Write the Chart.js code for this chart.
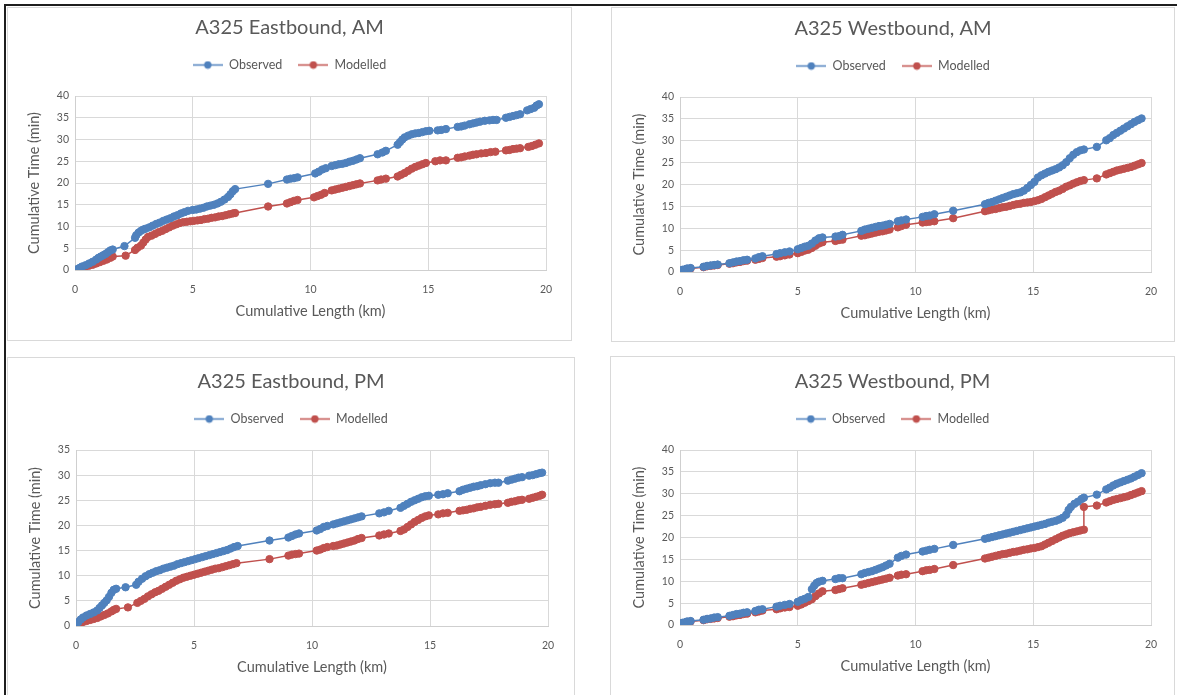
<!DOCTYPE html>
<html>
<head>
<meta charset="utf-8">
<script src="https://cdn.jsdelivr.net/npm/chart.js@4.4.1/dist/chart.umd.min.js"></script>
<style>
  body { margin: 0; background: #fff; width: 1177px; height: 695px; overflow: hidden; position: relative; }
  #frame { position: absolute; left: 4px; top: 4px; right: -10px; bottom: -10px; border-top: 2px solid #1e1e1e; border-left: 2px solid #1e1e1e; }
  .chartBox { position: absolute; box-sizing: border-box; border: 1px solid #d9d9d9; background: #fff; }
  .chartBox canvas { display: block; }
</style>
</head>
<body>
<div id="frame"></div>
<div id="chartsContainer"></div>
<script>
// [cumulative length (km), cumulative time (min)]
var ebAmObserved = [[0,0],[0.1,0.2],[0.2,0.5],[0.3,0.8],[0.45,1.1],[0.6,1.5],[0.75,1.9],[0.9,2.4],[1.0,2.8],[1.1,3.1],[1.2,3.4],[1.3,3.7],[1.4,4.1],[1.5,4.5],[1.6,4.7],
  [2.1,5.5],
  [2.55,7.4],[2.6,8.0],[2.7,8.6],[2.8,9.0],[2.9,9.3],[3.0,9.5],[3.15,9.8],[3.3,10.2],[3.45,10.6],[3.6,10.9],[3.75,11.3],[3.9,11.6],[4.05,11.9],[4.2,12.3],[4.35,12.6],[4.5,13.0],[4.65,13.3],[4.8,13.6],[5.0,13.8],[5.15,13.9],[5.3,14.1],[5.45,14.3],[5.6,14.6],[5.75,14.8],[5.9,15.0],[6.05,15.3],[6.2,15.7],[6.35,16.2],[6.5,16.8],[6.6,17.4],[6.7,18.1],[6.8,18.6],
  [8.2,19.8],
  [9.0,20.8],[9.15,21.0],[9.3,21.1],[9.45,21.3],
  [10.2,22.2],[10.35,22.6],[10.5,23.1],[10.65,23.4],
  [10.9,23.9],[11.05,24.1],[11.2,24.3],[11.35,24.4],[11.5,24.6],[11.65,24.9],[11.8,25.1],[11.95,25.4],[12.1,25.7],
  [12.85,26.6],[13.05,27.0],[13.2,27.4],
  [13.7,28.8],[13.8,29.4],[13.9,30.0],[14.0,30.5],[14.15,30.9],[14.3,31.2],[14.45,31.4],[14.6,31.5],[14.75,31.7],[14.9,31.9],[15.05,32.0],
  [15.4,32.1],[15.55,32.2],[15.75,32.4],
  [16.25,32.9],[16.4,33.0],[16.55,33.2],[16.75,33.5],[16.9,33.7],[17.05,33.9],[17.2,34.1],[17.4,34.3],[17.6,34.4],[17.75,34.5],[17.9,34.5],
  [18.3,35.0],[18.45,35.2],[18.6,35.4],[18.75,35.6],[18.9,35.8],
  [19.2,36.7],[19.35,37.0],[19.5,37.3],[19.6,37.8],[19.7,38.1]];

var ebAmModelled = [[0,0],[0.1,0.1],[0.2,0.3],[0.3,0.5],[0.45,0.8],[0.6,1.0],[0.75,1.2],[0.9,1.5],[1.05,1.8],[1.2,2.1],[1.35,2.4],[1.5,2.8],[1.6,3.1],
  [2.15,3.3],
  [2.55,4.6],[2.65,5.1],[2.8,5.6],[2.9,6.3],[3.0,7.0],[3.1,7.6],[3.25,7.9],[3.4,8.3],[3.55,8.7],[3.7,9.0],[3.85,9.4],[4.0,9.8],[4.15,10.2],[4.3,10.5],[4.45,10.8],[4.6,11.0],[4.75,11.1],[4.9,11.2],[5.05,11.3],[5.2,11.4],[5.35,11.5],[5.5,11.7],[5.65,11.8],[5.8,12.0],[5.95,12.1],[6.1,12.3],[6.25,12.4],[6.4,12.6],[6.55,12.8],[6.7,13.0],[6.8,13.1],
  [8.2,14.6],
  [9.0,15.3],[9.15,15.6],[9.3,15.9],[9.45,16.1],
  [10.15,16.7],[10.3,17.0],[10.45,17.3],[10.6,17.7],
  [10.9,18.3],[11.05,18.5],[11.2,18.7],[11.35,18.9],[11.5,19.1],[11.65,19.3],[11.8,19.5],[11.95,19.7],[12.1,19.9],
  [12.85,20.6],[13.0,20.8],[13.2,21.0],
  [13.7,21.5],[13.85,21.9],[14.0,22.3],[14.15,22.8],[14.3,23.3],[14.45,23.7],[14.6,24.0],[14.75,24.3],[14.9,24.6],
  [15.3,25.0],[15.5,25.2],[15.75,25.2],
  [16.25,25.8],[16.4,25.9],[16.55,26.1],[16.75,26.3],[16.9,26.5],[17.05,26.6],[17.25,26.8],[17.45,26.9],[17.65,27.1],[17.85,27.2],
  [18.3,27.5],[18.45,27.6],[18.6,27.8],[18.75,27.9],[18.9,28.0],
  [19.25,28.3],[19.4,28.5],[19.55,28.8],[19.7,29.1]];

var wbAmObserved = [[0.1,0.5],[0.2,0.6],[0.3,0.8],[0.45,0.9],
  [1.0,1.2],[1.15,1.4],[1.3,1.5],[1.45,1.6],[1.6,1.7],
  [2.1,2.0],[2.25,2.2],[2.4,2.4],[2.55,2.5],[2.7,2.7],[2.85,2.8],
  [3.2,3.1],[3.35,3.4],[3.5,3.6],
  [4.1,4.1],[4.25,4.3],[4.45,4.5],[4.65,4.7],
  [5.0,5.2],[5.15,5.5],[5.3,5.8],[5.45,6.0],[5.6,6.5],[5.75,7.2],[5.9,7.7],[6.05,7.9],
  [6.6,8.1],[6.75,8.2],[6.9,8.5],
  [7.7,9.4],[7.85,9.7],[8.0,9.9],[8.15,10.1],[8.3,10.3],[8.45,10.5],[8.6,10.6],[8.75,10.8],[8.9,11.0],
  [9.25,11.6],[9.4,11.8],[9.6,12.0],
  [10.3,12.6],[10.45,12.8],[10.6,12.9],[10.8,13.2],
  [11.6,14.0],
  [12.95,15.5],[13.1,15.8],[13.25,16.0],[13.4,16.3],[13.55,16.6],[13.7,16.9],[13.85,17.2],[14.0,17.5],[14.15,17.8],[14.3,18.0],[14.45,18.2],[14.6,18.6],[14.75,19.2],[14.9,19.9],[15.05,20.6],[15.2,21.6],[15.35,22.1],[15.5,22.5],[15.65,22.9],[15.8,23.2],[15.95,23.5],[16.1,23.9],[16.25,24.4],[16.4,25.1],[16.55,26.0],[16.7,26.8],[16.85,27.4],[17.0,27.8],[17.15,28.0],
  [17.7,28.6],
  [18.1,30.1],[18.25,30.6],[18.4,31.3],[18.55,31.8],[18.7,32.3],[18.85,32.8],[19.0,33.3],[19.15,33.8],[19.3,34.3],[19.45,34.7],[19.6,35.1]];

var wbAmModelled = [[0.1,0.4],[0.2,0.5],[0.3,0.7],[0.45,0.8],
  [1.0,1.1],[1.15,1.3],[1.3,1.4],[1.45,1.5],[1.6,1.6],
  [2.1,1.9],[2.25,2.0],[2.4,2.2],[2.55,2.3],[2.7,2.5],[2.85,2.6],
  [3.2,2.8],[3.35,3.0],[3.5,3.2],
  [4.1,3.5],[4.25,3.6],[4.45,3.8],[4.65,4.0],
  [5.0,4.3],[5.15,4.6],[5.3,4.9],[5.45,5.1],[5.6,5.5],[5.75,6.0],[5.9,6.5],[6.05,6.8],
  [6.6,7.1],[6.75,7.3],[6.9,7.4],
  [7.7,8.3],[7.85,8.4],[8.0,8.6],[8.15,8.8],[8.3,9.0],[8.45,9.2],[8.6,9.3],[8.75,9.5],[8.9,9.7],
  [9.25,10.2],[9.4,10.5],[9.6,10.8],
  [10.3,11.3],[10.45,11.4],[10.6,11.5],[10.8,11.6],
  [11.6,12.3],
  [12.95,13.9],[13.1,14.1],[13.25,14.3],[13.4,14.4],[13.55,14.6],[13.7,14.8],[13.85,14.9],[14.0,15.1],[14.15,15.3],[14.3,15.5],[14.45,15.6],[14.6,15.8],[14.75,15.9],[14.9,16.0],[15.05,16.2],[15.2,16.4],[15.35,16.7],[15.5,17.1],[15.65,17.5],[15.8,17.9],[15.95,18.3],[16.1,18.6],[16.25,19.0],[16.4,19.5],[16.55,19.8],[16.7,20.2],[16.85,20.5],[17.0,20.8],[17.15,21.0],
  [17.7,21.4],
  [18.1,22.3],[18.25,22.6],[18.4,22.9],[18.55,23.2],[18.7,23.4],[18.85,23.6],[19.0,23.8],[19.15,24.0],[19.3,24.3],[19.45,24.6],[19.6,24.9]];

var ebPmObserved = [[0,0.2],[0.1,0.8],[0.2,1.3],[0.3,1.7],[0.45,2.1],[0.6,2.4],[0.75,2.7],[0.9,3.1],[1.0,3.6],[1.1,4.1],[1.2,4.6],[1.3,5.1],[1.4,5.8],[1.5,6.6],[1.6,7.2],[1.7,7.4],
  [2.1,7.7],
  [2.55,8.2],[2.65,8.8],[2.8,9.4],[2.95,9.9],[3.1,10.3],[3.25,10.6],[3.4,10.9],[3.55,11.1],[3.7,11.4],[3.85,11.6],[4.0,11.8],[4.15,12.0],[4.3,12.3],[4.45,12.5],[4.6,12.7],[4.75,12.9],[4.9,13.1],[5.05,13.3],[5.2,13.5],[5.35,13.7],[5.5,13.9],[5.65,14.1],[5.8,14.3],[5.95,14.5],[6.1,14.7],[6.25,14.9],[6.4,15.1],[6.55,15.4],[6.7,15.7],[6.85,15.9],
  [8.2,17.0],
  [9.0,17.6],[9.15,17.9],[9.3,18.2],[9.45,18.4],
  [10.2,19.0],[10.35,19.3],[10.5,19.7],[10.65,19.9],
  [10.9,20.2],[11.05,20.4],[11.2,20.6],[11.35,20.8],[11.5,21.0],[11.65,21.2],[11.8,21.4],[11.95,21.6],[12.1,21.8],
  [12.85,22.4],[13.05,22.6],[13.25,22.9],
  [13.75,23.5],[13.9,23.9],[14.05,24.3],[14.2,24.7],[14.35,25.0],[14.5,25.3],[14.65,25.6],[14.8,25.8],[14.95,25.9],
  [15.35,26.1],[15.55,26.2],[15.75,26.4],
  [16.25,26.8],[16.4,27.1],[16.55,27.3],[16.7,27.5],[16.85,27.7],[17.0,27.8],[17.15,28.0],[17.35,28.2],[17.55,28.4],[17.75,28.5],[17.9,28.5],
  [18.3,28.9],[18.45,29.1],[18.6,29.3],[18.75,29.5],[18.9,29.6],
  [19.2,29.9],[19.35,30.0],[19.5,30.2],[19.65,30.4],[19.75,30.5]];

var ebPmModelled = [[0,0.2],[0.1,0.4],[0.2,0.6],[0.3,0.8],[0.45,1.0],[0.6,1.2],[0.75,1.4],[0.9,1.6],[1.05,1.9],[1.2,2.2],[1.35,2.5],[1.5,2.9],[1.6,3.2],[1.7,3.4],
  [2.2,3.7],
  [2.6,4.6],[2.75,5.0],[2.9,5.4],[3.05,5.9],[3.2,6.3],[3.35,6.7],[3.5,7.0],[3.65,7.4],[3.8,7.8],[3.95,8.2],[4.1,8.6],[4.25,9.0],[4.4,9.3],[4.55,9.6],[4.7,9.8],[4.85,10.0],[5.0,10.2],[5.15,10.4],[5.3,10.6],[5.45,10.8],[5.6,11.0],[5.75,11.2],[5.9,11.4],[6.05,11.5],[6.2,11.7],[6.35,11.9],[6.5,12.1],[6.65,12.3],[6.8,12.5],
  [8.2,13.3],
  [9.0,14.0],[9.15,14.2],[9.3,14.3],[9.45,14.4],
  [10.2,15.0],[10.35,15.2],[10.5,15.5],[10.65,15.7],
  [10.9,15.9],[11.05,16.0],[11.2,16.2],[11.35,16.4],[11.5,16.6],[11.65,16.8],[11.8,17.0],[11.95,17.3],[12.1,17.5],
  [12.85,18.0],[13.05,18.2],[13.25,18.4],
  [13.75,18.9],[13.9,19.2],[14.05,19.7],[14.2,20.2],[14.35,20.7],[14.5,21.1],[14.65,21.5],[14.8,21.8],[14.95,22.0],
  [15.35,22.2],[15.55,22.4],[15.75,22.5],
  [16.25,22.9],[16.4,23.0],[16.55,23.1],[16.7,23.3],[16.85,23.4],[17.0,23.6],[17.15,23.7],[17.35,23.9],[17.55,24.1],[17.75,24.2],[17.9,24.3],
  [18.3,24.5],[18.45,24.7],[18.6,24.8],[18.75,25.0],[18.9,25.1],
  [19.2,25.3],[19.35,25.5],[19.5,25.7],[19.65,25.9],[19.75,26.1]];

var wbPmObserved = [[0.1,0.5],[0.2,0.6],[0.3,0.8],[0.45,0.9],
  [1.0,1.2],[1.15,1.4],[1.3,1.5],[1.45,1.7],[1.6,1.8],
  [2.1,2.1],[2.25,2.3],[2.4,2.5],[2.55,2.6],[2.7,2.8],[2.85,2.9],
  [3.2,3.2],[3.35,3.5],[3.5,3.6],
  [4.1,4.2],[4.25,4.4],[4.45,4.6],[4.65,4.8],
  [5.0,5.3],[5.15,5.7],[5.3,6.0],[5.45,6.4],[5.6,8.2],[5.7,9.0],[5.8,9.6],[5.9,9.9],[6.05,10.1],
  [6.6,10.5],[6.75,10.7],[6.9,10.7],
  [7.7,11.6],[7.85,11.9],[8.0,12.1],[8.15,12.3],[8.3,12.6],[8.45,12.9],[8.6,13.2],[8.75,13.6],[8.9,14.0],
  [9.25,15.4],[9.4,15.8],[9.6,16.1],
  [10.3,16.8],[10.45,17.0],[10.6,17.2],[10.8,17.4],
  [11.6,18.3],
  [12.95,19.7],[13.1,19.9],[13.25,20.1],[13.4,20.3],[13.55,20.5],[13.7,20.7],[13.85,20.9],[14.0,21.1],[14.15,21.3],[14.3,21.5],[14.45,21.7],[14.6,21.9],[14.75,22.1],[14.9,22.3],[15.05,22.5],[15.2,22.7],[15.35,22.9],[15.5,23.1],[15.65,23.4],[15.8,23.6],[15.95,23.8],[16.1,24.1],[16.25,24.5],[16.4,25.2],[16.5,26.3],[16.6,27.0],[16.75,27.7],[16.9,28.2],[17.05,28.8],[17.15,29.1],
  [17.7,29.8],
  [18.1,31.0],[18.25,31.4],[18.4,31.9],[18.55,32.3],[18.7,32.6],[18.85,32.9],[19.0,33.2],[19.15,33.5],[19.3,33.9],[19.45,34.3],[19.6,34.7]];

var wbPmModelled = [[0.1,0.4],[0.2,0.5],[0.3,0.7],[0.45,0.8],
  [1.0,1.1],[1.15,1.3],[1.3,1.4],[1.45,1.5],[1.6,1.6],
  [2.1,1.9],[2.25,2.0],[2.4,2.2],[2.55,2.3],[2.7,2.5],[2.85,2.6],
  [3.2,2.9],[3.35,3.1],[3.5,3.3],
  [4.1,3.6],[4.25,3.8],[4.45,4.0],[4.65,4.1],
  [5.0,4.4],[5.15,4.7],[5.3,5.1],[5.45,5.5],[5.6,5.9],[5.75,6.6],[5.9,7.2],[6.05,7.7],
  [6.6,8.0],[6.75,8.2],[6.9,8.4],
  [7.7,9.2],[7.85,9.4],[8.0,9.6],[8.15,9.8],[8.3,10.0],[8.45,10.2],[8.6,10.4],[8.75,10.6],[8.9,10.8],
  [9.25,11.3],[9.4,11.5],[9.6,11.6],
  [10.3,12.3],[10.45,12.5],[10.6,12.6],[10.8,12.8],
  [11.6,13.7],
  [12.95,15.2],[13.1,15.4],[13.25,15.6],[13.4,15.8],[13.55,16.0],[13.7,16.2],[13.85,16.3],[14.0,16.5],[14.15,16.7],[14.3,16.8],[14.45,17.0],[14.6,17.2],[14.75,17.3],[14.9,17.5],[15.05,17.6],[15.2,17.8],[15.35,18.0],[15.5,18.4],[15.65,18.8],[15.8,19.2],[15.95,19.6],[16.1,20.0],[16.25,20.4],[16.4,20.7],[16.55,21.0],[16.7,21.2],[16.85,21.4],[17.0,21.6],[17.15,21.8],[17.15,27.0],
  [17.7,27.3],
  [18.1,28.0],[18.25,28.3],[18.4,28.6],[18.55,28.8],[18.7,29.0],[18.85,29.2],[19.0,29.4],[19.15,29.7],[19.3,30.0],[19.45,30.3],[19.6,30.6]];

var panelTitles = ['A325 Eastbound, AM', 'A325 Westbound, AM', 'A325 Eastbound, PM', 'A325 Westbound, PM'];
var observedSeries = [ebAmObserved, wbAmObserved, ebPmObserved, wbPmObserved];
var modelledSeries = [ebAmModelled, wbAmModelled, ebPmModelled, wbPmModelled];
var yAxisMax = [40, 40, 35, 40];
var seriesNames = ['Observed', 'Modelled'];
var xAxisTitle = 'Cumulative Length (km)';
var yAxisTitle = 'Cumulative Time (min)';

// page placement: box = [left, top, width, height], plot = [left, top, right, bottom]
var panelLayouts = [
  { box: [7, 7, 565, 334],   plot: [75, 96, 546, 270] },
  { box: [611, 7, 564, 335], plot: [680, 97, 1151, 272] },
  { box: [7, 357, 568, 345], plot: [76, 450, 548, 626] },
  { box: [610, 356, 565, 345], plot: [680, 450, 1151, 625] }
];

var observedColor = '#4f81bd';
var modelledColor = '#c0504d';
var textColor = '#595959';
var gridColor = '#d9d9d9';
var fontFamily = 'Lato, "Open Sans", sans-serif';

function makeLegendMarker(color) {
    var c = document.createElement('canvas');
    c.width = 30;
    c.height = 9;
    var g = c.getContext('2d');
    g.strokeStyle = color;
    g.lineWidth = 1.5;
    g.beginPath();
    g.moveTo(0, 4.5);
    g.lineTo(30, 4.5);
    g.stroke();
    g.fillStyle = color;
    g.beginPath();
    g.arc(15, 4.5, 3.7, 0, Math.PI * 2);
    g.fill();
    return c;
}

function toPoints(pairs) {
    return pairs.map(function (p) { return { x: p[0], y: p[1] }; });
}

function makeDataset(label, pairs, color) {
    return {
        label: label,
        data: toPoints(pairs),
        showLine: true,
        borderColor: color,
        backgroundColor: color,
        borderWidth: 1.5,
        pointRadius: 3.7,
        pointBorderWidth: 1,
        pointBackgroundColor: color,
        pointBorderColor: color
    };
}

function createChart(i) {
    var layout = panelLayouts[i];
    var box = document.createElement('div');
    box.className = 'chartBox';
    box.style.left = layout.box[0] + 'px';
    box.style.top = layout.box[1] + 'px';
    box.style.width = layout.box[2] + 'px';
    box.style.height = layout.box[3] + 'px';

    var w = layout.box[2] - 2, h = layout.box[3] - 2;
    var ox = layout.box[0] + 1, oy = layout.box[1] + 1;
    var plotL = layout.plot[0] - ox, plotT = layout.plot[1] - oy;
    var plotR = layout.plot[2] - ox, plotB = layout.plot[3] - oy;
    // same side padding left and right keeps title and legend centred on the box
    var side = w - plotR;

    var ctx = document.createElement('canvas');
    ctx.width = w;
    ctx.height = h;
    ctx.style.width = w + 'px';
    ctx.style.height = h + 'px';
    box.appendChild(ctx);
    document.getElementById('chartsContainer').appendChild(box);

    var xAxisHeight = 50;
    var markers = [makeLegendMarker(observedColor), makeLegendMarker(modelledColor)];

    return new Chart(ctx, {
        type: 'scatter',
        data: {
            datasets: [
                makeDataset(seriesNames[0], observedSeries[i], observedColor),
                makeDataset(seriesNames[1], modelledSeries[i], modelledColor)
            ]
        },
        options: {
            responsive: false,
            animation: false,
            events: [],
            layout: {
                padding: { left: side, top: plotT - 88, right: side, bottom: h - plotB - xAxisHeight }
            },
            plugins: {
                title: {
                    display: true,
                    text: panelTitles[i],
                    color: textColor,
                    font: { family: fontFamily, size: 20, weight: 'normal' },
                    padding: { top: 8, bottom: 2.75 }
                },
                // empty subtitle sits between legend and plot, only to hold the gap
                subtitle: {
                    display: true,
                    text: '',
                    weight: 500,
                    font: { family: fontFamily, size: 10 },
                    padding: { top: 0, bottom: 2.75 }
                },
                legend: {
                    display: true,
                    position: 'top',
                    labels: {
                        usePointStyle: true,
                        pointStyleWidth: 30,
                        padding: 16,
                        color: textColor,
                        font: { family: fontFamily, size: 12.5 },
                        generateLabels: function (chart) {
                            return chart.data.datasets.map(function (ds, k) {
                                return {
                                    text: ds.label,
                                    pointStyle: markers[k],
                                    fillStyle: ds.borderColor,
                                    strokeStyle: ds.borderColor,
                                    lineWidth: 0,
                                    fontColor: textColor,
                                    hidden: false,
                                    datasetIndex: k
                                };
                            });
                        }
                    }
                },
                tooltip: { enabled: false }
            },
            scales: {
                x: {
                    type: 'linear',
                    min: 0,
                    max: 20,
                    afterFit: function (scale) { scale.height = xAxisHeight; },
                    ticks: { stepSize: 5, padding: 13, color: textColor, font: { family: fontFamily, size: 10.5 } },
                    grid: { color: gridColor, drawTicks: false },
                    border: { color: '#cfcfcf' },
                    title: {
                        display: true,
                        text: xAxisTitle,
                        color: textColor,
                        font: { family: fontFamily, size: 14.5 },
                        padding: { top: 0, bottom: 0 }
                    }
                },
                y: {
                    min: 0,
                    max: yAxisMax[i],
                    afterFit: function (scale) { scale.width = plotL - side; },
                    ticks: { stepSize: 5, padding: 6, color: textColor, font: { family: fontFamily, size: 10.5 } },
                    grid: { color: gridColor, drawTicks: false },
                    border: { color: '#cfcfcf' },
                    title: {
                        display: true,
                        text: yAxisTitle,
                        color: textColor,
                        font: { family: fontFamily, size: 14.5 },
                        padding: { top: plotL - 41 - 8.7 - side, bottom: 0 }
                    }
                }
            }
        }
    });
}

window.addEventListener('load', function () {
    for (var i = 0; i < panelLayouts.length; i++) {
        createChart(i);
    }
});
</script>
</body>
</html>
